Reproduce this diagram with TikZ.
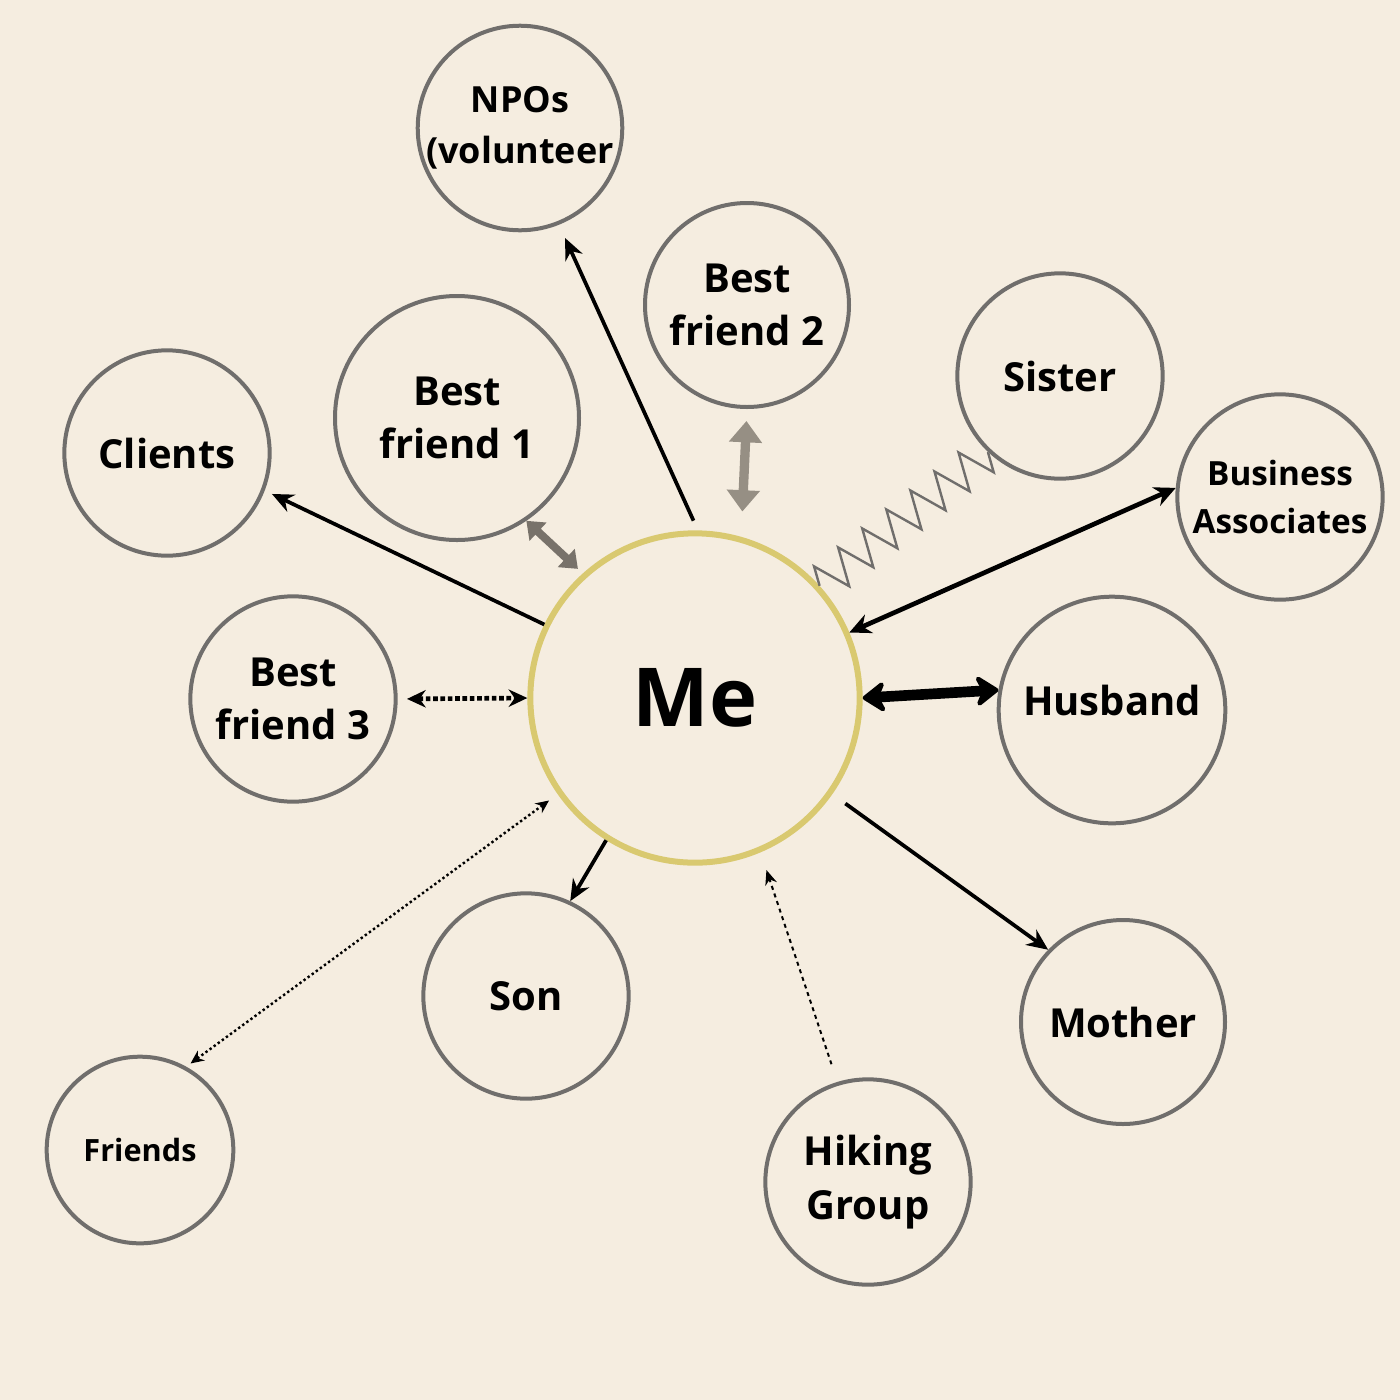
\documentclass[tikz,border=0pt]{standalone}
\usepackage{fontspec}
\setmainfont{Open Sans}
\usetikzlibrary{arrows.meta,decorations.pathmorphing}
\definecolor{bgcol}{RGB}{245,237,224}
\definecolor{ringcol}{RGB}{112,110,108}
\definecolor{mecol}{RGB}{217,201,112}
\definecolor{shadecol}{RGB}{150,143,132}
\tikzset{
  person/.style={circle,draw=ringcol,line width=3pt,inner sep=0pt,align=center,font=\bfseries\fontsize{30}{40}\selectfont},
  link/.style={line width=2.8pt,-{Stealth[length=16pt,width=14pt]}},
}

\begin{document}
\begin{tikzpicture}[x=0.75pt,y=0.75pt,yscale=-1,xscale=1]
    \fill[bgcol] (0,0) rectangle (1400,1400);
    \useasboundingbox (0,0) rectangle (1400,1400);

    % circles
    \node (me) [circle,draw=mecol,line width=4.5pt,minimum size=247pt,font=\bfseries\fontsize{61}{70}\selectfont] at (695,698) {Me};
    \node (npo) [person,minimum size=150pt,font=\bfseries\fontsize{27}{38}\selectfont] at (520,128) {NPOs\\(volunteer};
    \node (bftwo) [person,minimum size=153pt] at (747,305) {Best\\friend 2};
    \node (sister) [person,minimum size=154pt] at (1060,376) {Sister};
    \node (biz) [person,minimum size=154pt,font=\bfseries\fontsize{25}{36}\selectfont] at (1280,497) {Business\\Associates};
    \node (husband) [person,minimum size=170pt] at (1112,710) {\raisebox{14pt}{Husband}};
    \node (mother) [person,minimum size=153pt] at (1123,1022) {Mother};
    \node (hiking) [person,minimum size=154pt] at (868,1182) {Hiking\\Group};
    \node (son) [person,minimum size=154pt] at (526,996) {Son};
    \node (friends) [person,minimum size=140pt,font=\bfseries\fontsize{23}{30}\selectfont] at (140,1150) {Friends};
    \node (bfthree) [person,minimum size=154pt] at (293,699) {Best\\friend 3};
    \node (clients) [person,minimum size=154pt] at (167,453) {Clients};
    \node (bfone) [person,minimum size=183pt] at (457,418) {Best\\friend 1};

    % connectors
    \draw[link,shorten <=8pt,shorten >=11pt] (me.89) -- (npo.-68);
    \draw[shadecol,line width=7pt,{Triangle[length=16pt,width=24pt]}-{Triangle[length=16pt,width=24pt]},shorten <=9pt,shorten >=19pt] (bftwo.-90) -- (me.74);
    \draw[shadecol!80!black,line width=6pt,{Triangle[length=12pt,width=18pt]}-{Triangle[length=12pt,width=18pt]},shorten >=5pt] (bfone.-56) -- (me.132);
    \draw[ringcol,line width=1.8pt,decorate,decoration={zigzag,segment length=23pt,amplitude=14pt}] (me.42) -- (sister.-133);
    \draw[line width=3.5pt,{Stealth[length=16pt,width=15pt]}-{Stealth[length=16pt,width=15pt]}] (me.23) -- (biz.175);
    \draw[line width=8pt,{Stealth[length=20pt,width=28pt,round]}-{Stealth[length=20pt,width=28pt,round]}] (me.0) -- (husband.170);
    \draw[link,shorten <=12pt] (me.-35) -- (mother.136);
    \draw[line width=1.5pt,dashed,-{Stealth[length=11pt,width=9pt]},shorten <=14pt,shorten >=14pt] (hiking.107) -- (me.-67);
    \draw[link] (me.-122) -- (son.65);
    \draw[line width=1.8pt,dotted,{Stealth[length=10pt,width=9pt]}-{Stealth[length=10pt,width=9pt]},shorten <=8pt,shorten >=4pt] (me.-145) -- (friends.61);
    \draw[line width=3.5pt,dotted,{Stealth[length=14pt,width=13pt]}-{Stealth[length=14pt,width=13pt]},shorten <=7pt] (bfthree.0) -- (me.180);
    \draw[link,shorten >=6pt] (me.154) -- (clients.-21);

\end{tikzpicture}
\end{document}
